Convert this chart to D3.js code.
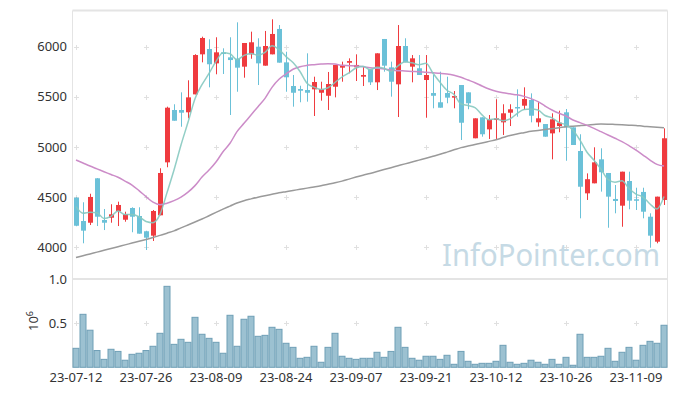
<!DOCTYPE html>
<html><head><meta charset="utf-8">
<script src="https://cdn.jsdelivr.net/npm/d3@7/dist/d3.min.js"></script>
<style>html,body{margin:0;padding:0;background:#fff;}svg{display:block;font-family:"Noto Sans",sans-serif;}</style>
</head><body><div id="chart"></div>
<script>
const dates = ["23-07-12","23-07-13","23-07-14","23-07-17","23-07-18","23-07-19","23-07-20","23-07-21","23-07-24","23-07-25","23-07-26","23-07-27","23-07-28","23-07-31","23-08-01","23-08-02","23-08-03","23-08-04","23-08-07","23-08-08","23-08-09","23-08-10","23-08-11","23-08-14","23-08-16","23-08-17","23-08-18","23-08-21","23-08-22","23-08-23","23-08-24","23-08-25","23-08-28","23-08-29","23-08-30","23-08-31","23-09-01","23-09-04","23-09-05","23-09-06","23-09-07","23-09-08","23-09-11","23-09-12","23-09-13","23-09-14","23-09-15","23-09-18","23-09-19","23-09-20","23-09-21","23-09-22","23-09-25","23-09-26","23-09-27","23-10-04","23-10-05","23-10-06","23-10-10","23-10-11","23-10-12","23-10-13","23-10-16","23-10-17","23-10-18","23-10-19","23-10-20","23-10-23","23-10-24","23-10-25","23-10-26","23-10-27","23-10-30","23-10-31","23-11-01","23-11-02","23-11-03","23-11-06","23-11-07","23-11-08","23-11-09","23-11-10","23-11-13","23-11-14","23-11-15"];
const open  = [4495,4262,4245,4688,4272,4295,4359,4275,4392,4312,4160,4116,4319,4847,5369,5369,5346,5525,5924,5977,5834,5944,5894,5880,5801,5924,6000,5811,5924,6177,5844,5608,5578,5568,5575,5541,5511,5601,5791,5840,5795,5701,5775,5645,6077,5794,5625,6007,5801,5785,5668,5538,5446,5538,5492,5618,5545,5087,5296,5176,5269,5246,5342,5399,5412,5469,5246,5229,5136,5209,5346,5196,4960,4538,4638,4877,4741,4482,4415,4661,4479,4552,4305,4056,4472];
const high  = [4500,4449,4534,4690,4382,4429,4455,4355,4399,4399,4165,4372,4788,5402,5426,5545,5665,5925,6100,6074,6094,5984,6094,6243,6037,6150,6084,6157,6273,6216,5950,5718,5611,5934,5701,5651,5748,5818,5851,5884,5924,5801,5775,5934,6077,5851,6216,6084,5917,5917,5917,5718,5751,5701,5558,5618,5545,5286,5296,5319,5476,5426,5426,5575,5595,5535,5452,5229,5336,5362,5379,5196,5127,4737,4997,4987,4741,4621,4754,4754,4594,4594,4339,4505,5186];
const low   = [4210,4040,4222,4212,4172,4245,4212,4255,4150,4136,3973,4063,4319,4798,5262,5202,5286,5525,5844,5595,5725,5728,5319,5551,5691,5880,5618,5811,5924,5841,5551,5402,5446,5452,5309,5462,5369,5495,5651,5735,5658,5608,5618,5568,5751,5502,5299,5844,5645,5718,5292,5386,5392,5436,5386,5070,5376,5087,5103,5080,5080,5120,5209,5302,5369,5246,5202,5103,4877,5147,4863,5020,4289,4472,4638,4555,4195,4339,4205,4379,4372,4289,3996,4040,4422];
const close = [4215,4166,4502,4305,4245,4329,4422,4332,4305,4136,4096,4362,4741,5392,5262,5342,5495,5917,6087,5825,5944,5927,5867,5791,6037,6044,5834,6007,6127,5841,5695,5541,5561,5541,5648,5578,5628,5818,5818,5857,5818,5718,5645,5934,5811,5651,6007,5844,5884,5718,5718,5511,5392,5492,5508,5242,5436,5286,5127,5276,5286,5336,5376,5389,5479,5312,5286,5103,5276,5242,5196,5020,4604,4679,4847,4748,4505,4462,4754,4465,4469,4355,4116,4505,5087];
const volume = [0.215,0.60,0.42,0.19,0.09,0.204,0.18,0.08,0.147,0.159,0.19,0.238,0.385,0.917,0.26,0.317,0.283,0.566,0.374,0.328,0.283,0.159,0.589,0.238,0.544,0.578,0.351,0.362,0.453,0.43,0.272,0.226,0.102,0.113,0.238,0.057,0.226,0.385,0.125,0.102,0.09,0.102,0.102,0.17,0.113,0.18,0.453,0.226,0.102,0.08,0.125,0.125,0.09,0.136,0.034,0.18,0.068,0.034,0.045,0.045,0.068,0.249,0.057,0.034,0.045,0.08,0.057,0.034,0.09,0.034,0.113,0.023,0.374,0.113,0.113,0.125,0.215,0.068,0.17,0.226,0.08,0.249,0.294,0.272,0.476];
const ma5  = [4405,4340,4350,4345,4287,4309,4361,4327,4327,4305,4258,4246,4328,4545,4771,5020,5246,5482,5621,5733,5854,5940,5930,5871,5913,5933,5915,5943,6010,5971,5901,5842,5753,5636,5597,5574,5591,5643,5698,5740,5788,5806,5771,5794,5785,5752,5810,5849,5839,5821,5834,5735,5645,5566,5524,5429,5414,5393,5320,5273,5282,5262,5280,5333,5373,5378,5368,5314,5291,5244,5221,5167,5068,4948,4869,4780,4677,4648,4663,4587,4531,4501,4432,4382,4506];
const ma20 = [4870,4840,4810,4782,4754,4726,4698,4660,4621,4565,4505,4450,4425,4440,4465,4500,4550,4615,4700,4770,4850,4953,5037,5153,5236,5319,5402,5485,5595,5675,5728,5775,5801,5814,5821,5827,5831,5827,5814,5811,5808,5801,5791,5784,5778,5768,5761,5758,5754,5751,5745,5740,5735,5728,5715,5695,5668,5641,5608,5578,5555,5540,5530,5520,5505,5482,5452,5409,5369,5336,5309,5269,5243,5216,5186,5153,5120,5087,5053,5013,4970,4920,4870,4827,4810];
const ma60 = [3898,3916,3934,3952,3970,3988,4006,4024,4042,4060,4078,4097,4119,4141,4164,4194,4223,4252,4282,4315,4348,4380,4411,4442,4465,4483,4500,4515,4529,4543,4555,4567,4578,4590,4601,4613,4628,4643,4660,4680,4700,4719,4736,4755,4775,4794,4813,4832,4850,4869,4888,4908,4927,4949,4972,4994,5010,5025,5040,5056,5072,5094,5115,5130,5143,5156,5165,5174,5183,5192,5202,5208,5213,5218,5224,5229,5228,5225,5222,5218,5215,5208,5203,5197,5192];
const tickDates = ["23-07-12","23-07-26","23-08-09","23-08-24","23-09-07","23-09-21","23-10-12","23-10-26","23-11-09"];
const priceTicks = [4000,4500,5000,5500,6000];
const volTicks = [0.5,1.0];

const W = 677, H = 396;
const padL = 72.5, padR = 667.5, padT = 10.5;
const svg = d3.select("#chart").append("svg").attr("width", W).attr("height", H);
svg.append("rect").attr("width", W).attr("height", H).attr("fill", "#fff");

const x = d3.scaleBand().domain(dates).range([padL, padR]).padding(0);
const xc = d => x(d) + x.bandwidth() / 2;
const y = d3.scaleLinear().domain([3684, 6359]).range([279, 10.7]);
const yv = d3.scaleLinear().domain([0, 1]).range([367.3, 279]);

// frame
const frame = svg.append("g").attr("stroke", "#e4e4e4").attr("fill", "none");
frame.append("line").attr("x1", padL).attr("x2", padR).attr("y1", padT).attr("y2", padT).attr("stroke-width", 2);
frame.append("line").attr("x1", padL).attr("x2", padL).attr("y1", padT).attr("y2", 367.5);
frame.append("line").attr("x1", padR).attr("x2", padR).attr("y1", padT).attr("y2", 367.5);
frame.append("line").attr("x1", padL).attr("x2", padR).attr("y1", yv(1)).attr("y2", yv(1)).attr("stroke-width", 2);

// plus markers
const plus = svg.append("g").attr("stroke", "#e0e0e0").attr("stroke-width", 1);
function drawPlus(px, py) {
  plus.append("line").attr("x1", px - 2.5).attr("x2", px + 2.5).attr("y1", py).attr("y2", py);
  plus.append("line").attr("x1", px).attr("x2", px).attr("y1", py - 2.5).attr("y2", py + 2.5);
}
tickDates.forEach(d => {
  priceTicks.forEach(p => drawPlus(Math.round(xc(d)) + 0.5, Math.round(y(p)) + 0.5));
  drawPlus(Math.round(xc(d)) + 0.5, Math.round(yv(0.5)) + 0.5);
});

// watermark
svg.append("text").attr("x", 442).attr("y", 266).attr("font-size", 31)
  .attr("textLength", 218).attr("lengthAdjust", "spacingAndGlyphs")
  .attr("fill", "#c6dae5").attr("font-family", "Noto Sans, sans-serif").text("InfoPointer.com");

// candles
const data = dates.map((d, i) => ({d, o: open[i], h: high[i], l: low[i], c: close[i], v: volume[i]}));
const up = "#ef3b3f", down = "#6bc1d8";
const cg = svg.append("g");
cg.selectAll("line.wick").data(data).join("line")
  .attr("x1", d => Math.round(xc(d.d)) + 0.5).attr("x2", d => Math.round(xc(d.d)) + 0.5)
  .attr("y1", d => y(d.h)).attr("y2", d => y(d.l))
  .attr("stroke", d => d.c >= d.o ? up : down).attr("stroke-width", 1);
cg.selectAll("rect.body").data(data).join("rect")
  .attr("x", d => Math.round(xc(d.d)) - 2)
  .attr("width", 5)
  .attr("y", d => y(Math.max(d.o, d.c)))
  .attr("height", d => Math.max(1.5, Math.abs(y(d.o) - y(d.c))))
  .attr("fill", d => d.c >= d.o ? up : down);

// moving averages
const line = arr => d3.line().x((v, i) => xc(dates[i])).y(v => y(v)).curve(d3.curveMonotoneX)(arr);
svg.append("path").attr("d", line(ma60)).attr("fill", "none").attr("stroke", "#9a9a9a").attr("stroke-width", 1.5);
svg.append("path").attr("d", line(ma20)).attr("fill", "none").attr("stroke", "#cc8cc8").attr("stroke-width", 1.5);
svg.append("path").attr("d", line(ma5)).attr("fill", "none").attr("stroke", "#86c9c0").attr("stroke-width", 1.5).attr("opacity", 0.9);

// volume bars
svg.append("g").selectAll("rect").data(data).join("rect")
  .attr("x", d => x(d.d) + 0.5).attr("width", x.bandwidth() - 1)
  .attr("y", d => yv(d.v)).attr("height", d => yv(0) - yv(d.v))
  .attr("fill", "#9cc1d1").attr("stroke", "#6f9fb6").attr("stroke-width", 1);

// labels
const lab = svg.append("g").attr("fill", "#333").attr("font-size", 13);
priceTicks.forEach(p => lab.append("text").attr("x", 67).attr("y", y(p)).attr("dy", "0.35em").attr("text-anchor", "end").text(p));
volTicks.forEach(v => lab.append("text").attr("x", 67).attr("y", yv(v)).attr("dy", "0.35em").attr("text-anchor", "end").text(v.toFixed(1)));
tickDates.forEach(d => lab.append("text").attr("x", xc(d)).attr("y", 382).attr("text-anchor", "middle").text(d));
const ex = lab.append("text").attr("transform", "translate(38,321) rotate(-90)").attr("text-anchor", "middle");
ex.append("tspan").text("10");
ex.append("tspan").attr("dy", -5).attr("font-size", 9).text("6");
</script></body></html>
